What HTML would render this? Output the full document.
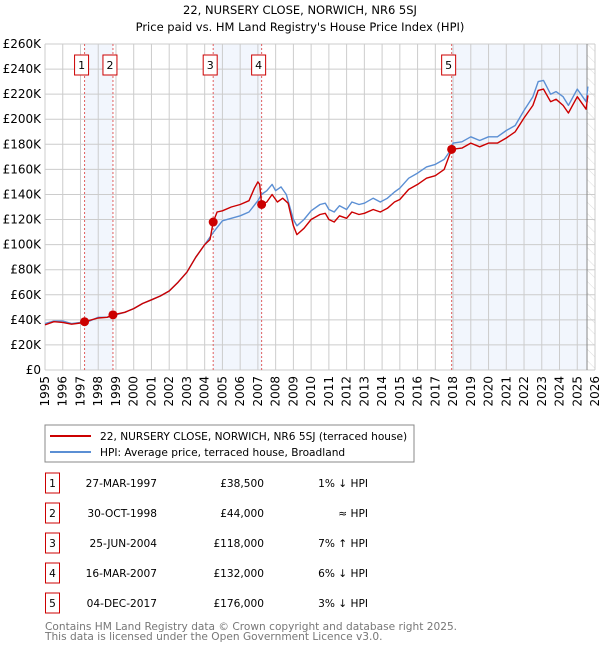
<!DOCTYPE html>
<html><head><meta charset="utf-8"><style>
body{margin:0;background:#fff;font-family:"DejaVu Sans","Liberation Sans",sans-serif;}
svg text{font-family:"DejaVu Sans","Liberation Sans",sans-serif;}
</style></head><body>
<svg id="c" width="600" height="650" xmlns="http://www.w3.org/2000/svg">
<defs><pattern id="hatch" width="8" height="8" patternUnits="userSpaceOnUse" patternTransform="rotate(-45)"><line x1="0" y1="0" x2="0" y2="8" stroke="#dddddd" stroke-width="1"/></pattern></defs>
<text x="300" y="14" text-anchor="middle" font-size="11.5">22, NURSERY CLOSE, NORWICH, NR6 5SJ</text>
<text x="300" y="31" text-anchor="middle" font-size="11.5">Price paid vs. HM Land Registry's House Price Index (HPI)</text>
<g id="plot"></g>
<rect x="45" y="425" width="369" height="37" fill="#fff" stroke="#888"/>
<line x1="50" y1="436" x2="91" y2="436" stroke="#cc0000" stroke-width="2"/>
<text x="100" y="440" font-size="10.6">22, NURSERY CLOSE, NORWICH, NR6 5SJ (terraced house)</text>
<line x1="50" y1="452" x2="91" y2="452" stroke="#5b8fd4" stroke-width="2"/>
<text x="100" y="456" font-size="10.6">HPI: Average price, terraced house, Broadland</text>
<g id="table" font-size="10.6"></g>
<text x="45" y="630" font-size="10.6" fill="#777">Contains HM Land Registry data © Crown copyright and database right 2025.</text>
<text x="45" y="640" font-size="10.6" fill="#777">This data is licensed under the Open Government Licence v3.0.</text>
</svg>
<script>
const hpiYears=[1995,1995.5,1996,1996.5,1997,1997.5,1998,1998.5,1999,1999.5,2000,2000.5,2001,2001.5,2002,2002.5,2003,2003.5,2004,2004.5,2005,2005.5,2006,2006.5,2007,2007.2,2007.5,2007.8,2008,2008.3,2008.6,2009,2009.2,2009.6,2010,2010.5,2010.8,2011,2011.3,2011.6,2012,2012.3,2012.7,2013,2013.5,2013.9,2014.3,2014.7,2015,2015.5,2016,2016.5,2017,2017.5,2017.9,2018,2018.5,2019,2019.5,2020,2020.5,2021,2021.5,2022,2022.5,2022.8,2023.1,2023.5,2023.8,2024.2,2024.5,2025,2025.3,2025.5,2025.6];
const hpiValues=[37,39,39,37,38,39,42,42,44,46,49,53,56,59,63,70,78,90,100,110,119,121,123,126,135,140,143,148,143,146,140,120,115,120,127,132,133,128,126,131,128,134,132,133,137,134,137,142,145,153,157,162,164,168,176,181,182,186,183,186,186,191,195,207,218,230,231,220,222,218,211,224,218,214,226];
const redYears=[1995,1995.5,1996,1996.5,1997,1997.23,1998,1998.5,1998.83,1999.5,2000,2000.5,2001,2001.5,2002,2002.5,2003,2003.5,2004,2004.3,2004.48,2004.7,2005,2005.5,2006,2006.5,2006.8,2007,2007.1,2007.21,2007.5,2007.8,2008.1,2008.4,2008.7,2009,2009.2,2009.6,2010,2010.5,2010.8,2011,2011.3,2011.6,2012,2012.3,2012.7,2013,2013.5,2013.9,2014.3,2014.7,2015,2015.5,2016,2016.5,2017,2017.5,2017.92,2018.5,2019,2019.5,2020,2020.5,2021,2021.5,2022,2022.5,2022.8,2023.1,2023.5,2023.8,2024.2,2024.5,2025,2025.3,2025.5,2025.6];
const redValues=[36,38.5,38,36.5,37.5,38.5,41.5,42,44,46,49,53,56,59,63,70,78,90,100,104,118,126,127,130,132,135,145,150,148,132,134,140,134,137,133,115,108,113,120,124,125,120,118,123,121,126,124,125,128,126,129,134,136,144,148,153,155,160,176,177,181,178,181,181,185,190,201,211,223,224,214,216,211,205,218,212,208,219];
const saleLabels=["1","2","3","4","5"];
const saleYears=[1997.23,1998.83,2004.48,2007.21,2017.92];
const salePrices=[38.5,44,118,132,176];
const saleDates=["27-MAR-1997","30-OCT-1998","25-JUN-2004","16-MAR-2007","04-DEC-2017"];
const salePriceText=["£38,500","£44,000","£118,000","£132,000","£176,000"];
const saleHpiText=["1% ↓ HPI","≈ HPI","7% ↑ HPI","6% ↓ HPI","3% ↓ HPI"];
const yTicks=[0,20,40,60,80,100,120,140,160,180,200,220,240,260];
const yTickLabels=["£0","£20K","£40K","£60K","£80K","£100K","£120K","£140K","£160K","£180K","£200K","£220K","£240K","£260K"];
const xTicks=[1995,1996,1997,1998,1999,2000,2001,2002,2003,2004,2005,2006,2007,2008,2009,2010,2011,2012,2013,2014,2015,2016,2017,2018,2019,2020,2021,2022,2023,2024,2025,2026];

const X0=45,X1=595,Y0=370,Y1=44,dataEnd=2025.55;
const sx=v=>X0+(v-1995)/(2026-1995)*(X1-X0);
const sy=v=>Y0-v/260*(Y0-Y1);
const NS="http://www.w3.org/2000/svg";
const plot=document.getElementById('plot');
function mk(tag,attrs,parent){const e=document.createElementNS(NS,tag);for(const k in attrs)e.setAttribute(k,attrs[k]);(parent||plot).appendChild(e);return e;}
const spans=[[0,1],[2,3],[4,-1]];
spans.forEach(s=>{const a=sx(saleYears[s[0]]);const b=s[1]<0?sx(dataEnd):sx(saleYears[s[1]]);
const r=mk('rect',{x:a,y:Y1,width:b-a,height:Y0-Y1,fill:'#f2f6fd'});

});
const h=mk('rect',{x:sx(dataEnd),y:Y1,width:X1-sx(dataEnd),height:Y0-Y1,fill:'url(#hatch)'});


yTicks.forEach((t,i)=>{const l=mk('line',{x1:X0,x2:X1,y1:sy(t),y2:sy(t),stroke:'#cccccc','stroke-width':1});


const tx=mk('text',{x:X0-4,y:sy(t)+4,'text-anchor':'end','font-size':12});tx.textContent=yTickLabels[i];

});
xTicks.forEach(t=>{const l=mk('line',{x1:sx(t),x2:sx(t),y1:Y1,y2:Y0,stroke:'#cccccc','stroke-width':1});


const tx=mk('text',{x:0,y:0,'text-anchor':'end','font-size':12,transform:`translate(${sx(t)+4},${Y0+6}) rotate(-90)`});tx.textContent=t;

});
const ed=mk('line',{x1:sx(dataEnd),x2:sx(dataEnd),y1:Y1,y2:Y0,stroke:'#888','stroke-width':1});


saleYears.forEach(y=>{const l=mk('line',{x1:sx(y),x2:sx(y),y1:Y1,y2:Y0,stroke:'#e06060','stroke-width':1,'stroke-dasharray':'2,2'});

});
function path(xs,vs,col,name){const d=xs.map((x,i)=>(i?'L':'M')+sx(x).toFixed(1)+','+sy(vs[i]).toFixed(1)).join('');
const p=mk('path',{d:d,fill:'none',stroke:col,'stroke-width':1.4,'stroke-linejoin':'round'});

}
path(hpiYears,hpiValues,'#5b8fd4','hpi-line');
path(redYears,redValues,'#cc0000','price-paid-line');
saleYears.forEach((y,i)=>{const c=mk('circle',{cx:sx(y),cy:sy(salePrices[i]),r:4.5,fill:'#cc0000'});


const b=mk('rect',{x:sx(y)-10,y:55,width:14,height:20,fill:'#fff',stroke:'#cc0000'});


const t=mk('text',{x:sx(y)-3,y:69,'text-anchor':'middle','font-size':11});t.textContent=saleLabels[i];

});
const tb=document.getElementById('table');
saleLabels.forEach((s,i)=>{const cy=483+i*30;
const b=mk('rect',{x:45.5,y:cy-10,width:14,height:20,fill:'#fff',stroke:'#cc0000'},tb);


const cols=[[52.5,'middle',s,'table-row-number'],[157,'end',saleDates[i],'table-date'],[264,'end',salePriceText[i],'table-price'],[368,'end',saleHpiText[i],'table-hpi-diff']];
cols.forEach(c=>{const t=mk('text',{x:c[0],y:cy+4,'text-anchor':c[1]},tb);t.textContent=c[2];

});});
</script>
</body></html>
